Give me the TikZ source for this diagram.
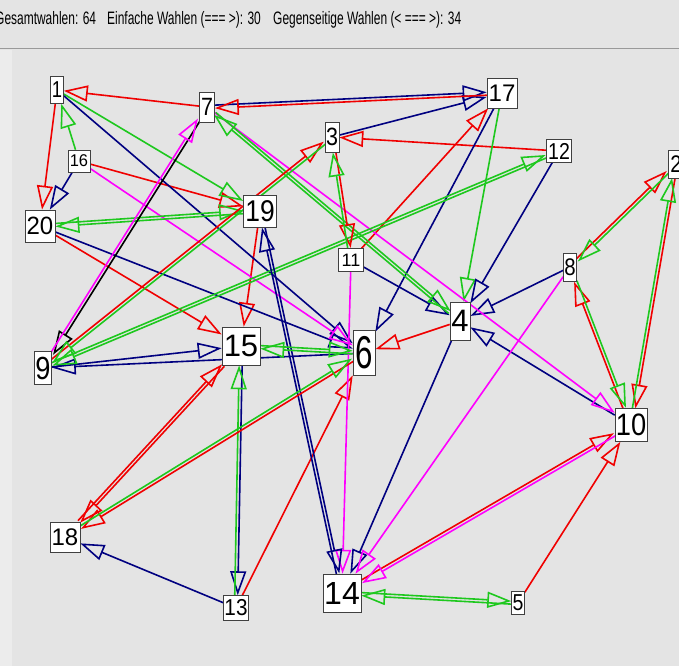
\documentclass[tikz,border=0pt]{standalone}
\usepackage{fontspec}
\setmainfont{Liberation Sans}
\usepackage{graphicx}
\usetikzlibrary{arrows.meta,calc}
\pgfdeclarelayer{bgl}
\pgfdeclarelayer{edl}
\pgfsetlayers{bgl,edl,main}
\definecolor{cred}{RGB}{240,0,0}
\definecolor{cgreen}{RGB}{30,200,30}
\definecolor{cnavy}{RGB}{0,0,128}
\definecolor{cmag}{RGB}{255,0,255}
\definecolor{bggray}{RGB}{228,228,228}
\definecolor{stripgray}{RGB}{236,236,236}
\newcommand\lab[3]{\scalebox{#2}[1]{\fontsize{#1}{#1}\selectfont #3}}
\newcommand\hdr[1]{\scalebox{0.665}[1]{\fontsize{18}{18}\selectfont #1}}
\newcommand\oneE[3]{\draw[ed,#1] (#2) -- (#3);}
\newcommand\pairE[3]{%
  \path let \p1=($(#3.center)-(#2.center)$), \n1={atan2(\y1,\x1)+90} in \pgfextra{\xdef\myang{\n1}};
  \draw[ed,#1,transform canvas={shift={(\myang:1.5pt)}}] (#2) -- (#3);}
\tikzset{
  box/.style={draw=black!75, line width=0.6pt, fill=white, inner sep=0pt},
  ed/.style={line width=1.6pt, -{Triangle[open,length=24pt,width=16pt]}}
}
\begin{document}
\begin{tikzpicture}[x=1pt,y=-1pt]
\useasboundingbox (0,0) rectangle (679,666);
\begin{pgfonlayer}{bgl}
  \fill[bggray] (0,0) rectangle (679,666);
  \fill[stripgray] (0,50) rectangle (12,666);
  \draw[black!40, line width=1pt] (0,49) -- (679,49);
\end{pgfonlayer}
% header
\node[anchor=base west, inner sep=0pt] (h1) at (-5,25) {\hdr{Gesamtwahlen: 64}};
\node[anchor=base west, inner sep=0pt] (h2) at (107,25) {\hdr{Einfache Wahlen (=== >): 30}};
\node[anchor=base west, inner sep=0pt] (h3) at (273,25) {\hdr{Gegenseitige Wahlen (< === >): 34}};
% nodes
\node[box, minimum width=13pt, minimum height=27pt] (v1) at (57,90) {\lab{23}{0.8}{1}};
\node[box, minimum width=15pt, minimum height=30pt] (v7) at (207,107) {\lab{25}{0.86}{7}};
\node[box, minimum width=22pt, minimum height=22pt] (v16) at (79,161) {\lab{17}{0.97}{16}};
\node[box, minimum width=30pt, minimum height=32pt] (v20) at (40,226) {\lab{25}{0.96}{20}};
\node[box, minimum width=33pt, minimum height=32pt] (v19) at (260,211) {\lab{30}{0.88}{19}};
\node[box, minimum width=14pt, minimum height=30pt] (v3) at (332,137) {\lab{25}{0.86}{3}};
\node[box, minimum width=30pt, minimum height=30pt] (v17) at (502,93) {\lab{24}{1}{17}};
\node[box, minimum width=25pt, minimum height=23pt] (v12) at (559,151) {\lab{23}{0.85}{12}};
\node[box, minimum width=16pt, minimum height=28pt] (v2) at (676,164) {\lab{24}{0.85}{2}};
\node[box, minimum width=25pt, minimum height=23pt] (v11) at (351,260) {\lab{18}{1}{11}};
\node[box, minimum width=22pt, minimum height=45pt] (v6) at (364,353) {\lab{46}{0.68}{6}};
\node[box, minimum width=20pt, minimum height=38pt] (v4) at (460,321) {\lab{31}{1}{4}};
\node[box, minimum width=38pt, minimum height=38pt] (v15) at (241,346) {\lab{31}{1}{15}};
\node[box, minimum width=17pt, minimum height=33pt] (v9) at (43,368) {\lab{32}{0.85}{9}};
\node[box, minimum width=13pt, minimum height=28pt] (v8) at (570,267) {\lab{24}{0.85}{8}};
\node[box, minimum width=32pt, minimum height=33pt] (v10) at (631,425) {\lab{31}{0.88}{10}};
\node[box, minimum width=30pt, minimum height=30pt] (v18) at (65,537) {\lab{24}{1}{18}};
\node[box, minimum width=25pt, minimum height=25pt] (v13) at (236,608) {\lab{23}{0.9}{13}};
\node[box, minimum width=38pt, minimum height=38pt] (v14) at (342,593) {\lab{32}{1}{14}};
\node[box, minimum width=13pt, minimum height=23pt] (v5) at (518,603) {\lab{23}{0.85}{5}};
\begin{pgfonlayer}{edl}
% single choices
\oneE{cred}{v7}{v1}
\oneE{cred}{v1}{v20}
\oneE{cred}{v16}{v19}
\oneE{cred}{v20}{v15}
\oneE{cred}{v12}{v3}
\oneE{cred}{v11}{v17}
\oneE{cred}{v4}{v6}
\oneE{cred}{v19}{v15}
\oneE{cred}{v13}{v6}
\oneE{cred}{v5}{v10}
\oneE{cgreen}{v16}{v1}
\oneE{cgreen}{v1}{v19}
\oneE{cgreen}{v17}{v4}
\oneE{cnavy}{v16}{v20}
\oneE{cnavy}{v1}{v6}
\oneE{cnavy}{v20}{v6}
\oneE{cnavy}{v3}{v17}
\oneE{cnavy}{v17}{v6}
\oneE{cnavy}{v12}{v4}
\oneE{cnavy}{v8}{v4}
\oneE{cnavy}{v10}{v4}
\oneE{cnavy}{v4}{v14}
\oneE{cnavy}{v11}{v4}
\oneE{cnavy}{v6}{v9}
\oneE{cnavy}{v9}{v15}
\oneE{cnavy}{v13}{v18}
\oneE{cmag}{v16}{v6}
\oneE{cmag}{v7}{v10}
\oneE{cmag}{v8}{v14}
\oneE{cmag}{v11}{v14}
% mutual choices
\pairE{cgreen}{v20}{v19}
\pairE{cgreen}{v19}{v20}
\pairE{black}{v7}{v9}
\pairE{cmag}{v9}{v7}
\pairE{cnavy}{v7}{v17}
\pairE{cred}{v17}{v7}
\pairE{cgreen}{v7}{v4}
\pairE{cgreen}{v4}{v7}
\pairE{cgreen}{v12}{v9}
\pairE{cgreen}{v9}{v12}
\pairE{cred}{v8}{v2}
\pairE{cgreen}{v2}{v8}
\pairE{cred}{v2}{v10}
\pairE{cgreen}{v10}{v2}
\pairE{cred}{v10}{v8}
\pairE{cgreen}{v8}{v10}
\pairE{cred}{v3}{v11}
\pairE{cgreen}{v11}{v3}
\pairE{cred}{v9}{v3}
\pairE{cgreen}{v3}{v9}
\pairE{cnavy}{v19}{v14}
\pairE{cnavy}{v14}{v19}
\pairE{cgreen}{v6}{v15}
\pairE{cgreen}{v15}{v6}
\pairE{cnavy}{v15}{v13}
\pairE{cgreen}{v13}{v15}
\pairE{cred}{v18}{v15}
\pairE{cred}{v15}{v18}
\pairE{cred}{v6}{v18}
\pairE{cgreen}{v18}{v6}
\pairE{cred}{v14}{v10}
\pairE{cmag}{v10}{v14}
\pairE{cgreen}{v14}{v5}
\pairE{cgreen}{v5}{v14}
\end{pgfonlayer}
\end{tikzpicture}
\end{document}
